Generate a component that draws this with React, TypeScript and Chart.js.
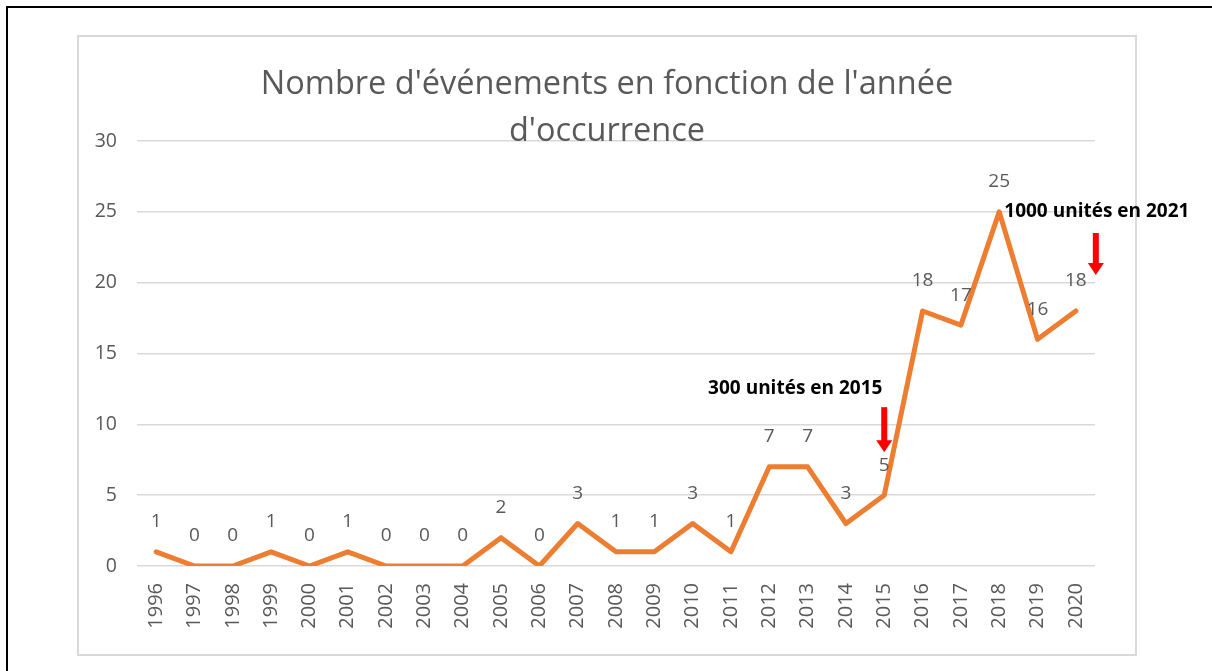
import React, { useEffect, useRef } from "react";
import { Chart, registerables } from "chart.js";

Chart.register(...registerables);

const years = [
  "1996", "1997", "1998", "1999", "2000", "2001", "2002", "2003", "2004",
  "2005", "2006", "2007", "2008", "2009", "2010", "2011", "2012", "2013",
  "2014", "2015", "2016", "2017", "2018", "2019", "2020",
];
const events = [1, 0, 0, 1, 0, 1, 0, 0, 0, 2, 0, 3, 1, 1, 3, 1, 7, 7, 3, 5, 18, 17, 25, 16, 18];
const yMin = 0;
const yMax = 30;
const yStep = 5;
const titleLines = ["Nombre d'événements en fonction de l'année", "d'occurrence"];
const noteTexts = ["300 unités en 2015", "1000 unités en 2021"];
const noteAnchorYears = ["2015", "2020"];

const GRAY = "#595959";
const FONT = "'Open Sans', 'DejaVu Sans', sans-serif";

const titlePlugin = {
  id: "customTitle",
  afterDraw(chart: any) {
    const ctx = chart.ctx;
    ctx.save();
    ctx.fillStyle = GRAY;
    ctx.font = `32.5px ${FONT}`;
    ctx.textAlign = "center";
    ctx.textBaseline = "middle";
    const cx = 607;
    titleLines.forEach((line, i) => ctx.fillText(line, cx, 85 + i * 47));
    ctx.restore();
  },
};

const dataLabelPlugin = {
  id: "dataLabels",
  afterDatasetsDraw(chart: any) {
    const ctx = chart.ctx;
    const meta = chart.getDatasetMeta(0);
    ctx.save();
    ctx.fillStyle = GRAY;
    ctx.font = `19px ${FONT}`;
    ctx.textAlign = "center";
    ctx.textBaseline = "middle";
    meta.data.forEach((pt: any, i: number) => {
      ctx.fillText(String(events[i]), pt.x, pt.y - 30);
    });
    ctx.restore();
  },
};

function drawArrow(ctx: any, x: number, top: number, tip: number) {
  const headH = 12;
  const shaftW = 6;
  const headW = 16;
  ctx.fillStyle = "#FF0000";
  ctx.fillRect(x - shaftW / 2, top, shaftW, tip - headH - top + 1);
  ctx.beginPath();
  ctx.moveTo(x - headW / 2, tip - headH);
  ctx.lineTo(x + headW / 2, tip - headH);
  ctx.lineTo(x, tip);
  ctx.closePath();
  ctx.fill();
}

const notesPlugin = {
  id: "notes",
  afterDraw(chart: any) {
    const ctx = chart.ctx;
    const xs = chart.scales.x;
    const ys = chart.scales.y;
    ctx.save();
    ctx.font = `bold 19px ${FONT}`;
    ctx.fillStyle = "#000000";
    ctx.textAlign = "center";
    ctx.textBaseline = "middle";

    // note 1 : 2015
    const i1 = years.indexOf(noteAnchorYears[0]);
    const x1 = xs.getPixelForValue(i1);
    const p1 = ys.getPixelForValue(events[i1]);
    ctx.fillText(noteTexts[0], x1 - 89, p1 - 107);
    drawArrow(ctx, x1, p1 - 88, p1 - 43);

    // note 2 : beyond 2020
    const i2 = years.indexOf(noteAnchorYears[1]);
    const x2 = xs.getPixelForValue(i2) + 20;
    const p2 = ys.getPixelForValue(events[i2]);
    ctx.fillStyle = "#000000";
    ctx.fillText(noteTexts[1], x2 + 1, p2 - 99);
    drawArrow(ctx, x2, p2 - 78, p2 - 36);
    ctx.restore();
  },
};

export default function App() {
  const ref = useRef<HTMLCanvasElement | null>(null);

  useEffect(() => {
    if (!ref.current) return;
    const chart = new Chart(ref.current, {
      type: "line",
      data: {
        labels: years,
        datasets: [
          {
            data: events,
            borderColor: "#ED7D31",
            backgroundColor: "#ED7D31",
            borderWidth: 5,
            pointRadius: 0,
            pointHoverRadius: 0,
            tension: 0,
            borderJoinStyle: "round",
            borderCapStyle: "round",
          },
        ],
      },
      options: {
        responsive: false,
        animation: false,
        devicePixelRatio: 1,
        layout: { padding: { left: 77, right: 117, top: 141, bottom: 25 } },
        plugins: {
          legend: { display: false },
          title: { display: false },
          tooltip: { enabled: false },
        },
        scales: {
          x: {
            type: "category",
            offset: true,
            grid: { display: false, drawTicks: false },
            border: { display: false },
            ticks: {
              autoSkip: false,
              minRotation: 90,
              maxRotation: 90,
              padding: 17,
              color: GRAY,
              font: { family: FONT, size: 20 },
            },
            afterFit: (s: any) => {
              s.height = 80;
            },
          },
          y: {
            min: yMin,
            max: yMax,
            grid: { color: "#d9d9d9", lineWidth: 1.5, drawTicks: false },
            border: { display: false },
            ticks: {
              stepSize: yStep,
              padding: 20,
              color: GRAY,
              font: { family: FONT, size: 19.5 },
            },
            afterFit: (s: any) => {
              s.width = 60;
            },
          },
        },
      },
      plugins: [titlePlugin, dataLabelPlugin, notesPlugin],
    } as any);
    return () => chart.destroy();
  }, []);

  return (
    <div
      style={{
        position: "fixed",
        left: 0,
        top: 0,
        width: 1212,
        height: 671,
        background: "#ffffff",
        overflow: "hidden",
      }}
    >
      <div
        style={{
          position: "absolute",
          left: 6,
          top: 6,
          width: 1300,
          height: 800,
          borderLeft: "2px solid #000",
          borderTop: "2px solid #000",
        }}
      />
      <div
        style={{
          position: "absolute",
          left: 77,
          top: 35,
          width: 1060,
          height: 621,
          boxSizing: "border-box",
          border: "2px solid #d9d9d9",
        }}
      />
      <canvas
        ref={ref}
        width={1212}
        height={671}
        style={{ position: "absolute", left: 0, top: 0 }}
      />
    </div>
  );
}
